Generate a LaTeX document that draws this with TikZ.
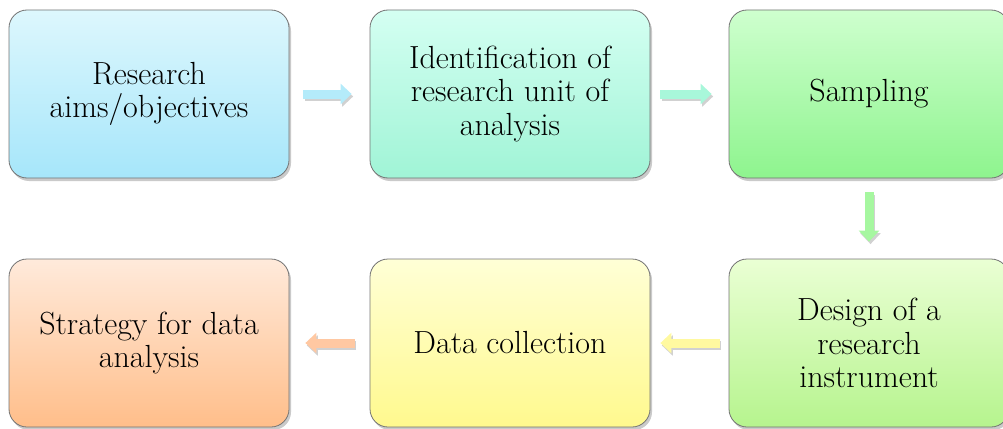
\documentclass[tikz,border=0pt]{standalone}
\usepackage{fontspec}
\usetikzlibrary{shadows,arrows.meta}
\definecolor{c1t}{HTML}{DDF7FD}\definecolor{c1b}{HTML}{A6E6FA}
\definecolor{c2t}{HTML}{D4FFF2}\definecolor{c2b}{HTML}{A0F4D6}
\definecolor{c3t}{HTML}{CEFFCE}\definecolor{c3b}{HTML}{8EF48E}
\definecolor{c4t}{HTML}{EAFFD4}\definecolor{c4b}{HTML}{B6F48E}
\definecolor{c5t}{HTML}{FFFFD6}\definecolor{c5b}{HTML}{FFF98E}
\definecolor{c6t}{HTML}{FFEADB}\definecolor{c6b}{HTML}{FFBE8A}
\definecolor{a1}{HTML}{B4EBFA}\definecolor{a2}{HTML}{A8F7DA}
\definecolor{a3}{HTML}{A6F7A0}\definecolor{a4}{HTML}{FFF9A0}
\definecolor{a5}{HTML}{FFC8A2}
\tikzset{
  stepbox/.style={rectangle, rounded corners=18pt, draw=black!55, line width=0.8pt,
    minimum width=280pt, minimum height=168pt, align=center,
    font=\fontsize{32pt}{33.5pt}\selectfont,
    drop shadow={shadow xshift=2pt, shadow yshift=-3pt, opacity=0.35, fill=black!60}},
  blockarr/.style={line width=9pt, draw=#1,
    -{Triangle[width=20pt,length=11pt]},
    preaction={draw=black!18, line width=9pt, -{Triangle[width=20pt,length=11pt]},
      transform canvas={shift={(1.5pt,-2.5pt)}}}}
}
\begin{document}
\begin{tikzpicture}[x=1pt,y=-1pt]
\useasboundingbox (0,0) rectangle (1003,428);
\begin{scope}
\clip (0,0) rectangle (1003,428);
\node[stepbox, top color=c1t, bottom color=c1b] (n1) at (149,94) {Research\\aims/objectives};
\node[stepbox, top color=c2t, bottom color=c2b] (n2) at (510,94) {Identification of\\research unit of\\analysis};
\node[stepbox, top color=c3t, bottom color=c3b] (n3) at (869,94) {Sampling};
\node[stepbox, top color=c4t, bottom color=c4b] (n4) at (869,343) {Design of a\\research\\instrument};
\node[stepbox, top color=c5t, bottom color=c5b] (n5) at (510,343) {Data collection};
\node[stepbox, top color=c6t, bottom color=c6b] (n6) at (149,343) {Strategy for data\\analysis};
\end{scope}
\draw[blockarr=a1, shorten <=14pt, shorten >=18pt] (n1.east) -- (n2.west);
\draw[blockarr=a2, shorten <=10pt, shorten >=17pt] (n2.east) -- (n3.west);
\draw[blockarr=a3, shorten <=14pt, shorten >=17pt] (n3.south) -- (n4.north);
\draw[blockarr=a4, shorten <=9pt, shorten >=10pt] (n4.west) -- (n5.east);
\draw[blockarr=a5, shorten <=15pt, shorten >=16pt] (n5.west) -- (n6.east);
\end{tikzpicture}
\end{document}
